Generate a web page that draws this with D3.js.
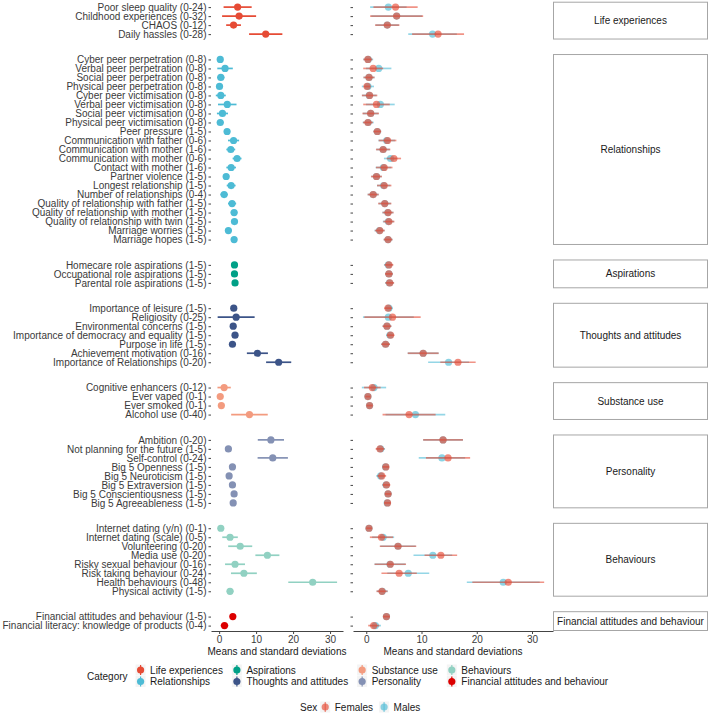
<!DOCTYPE html>
<html><head><meta charset="utf-8">
<script src="https://cdn.jsdelivr.net/npm/d3@7"></script>
<style>
body{margin:0;background:#fff}
svg{display:block}
text{font-family:"Liberation Sans",Arial,Helvetica,sans-serif}
</style>
</head><body>
<svg id="chart" width="709" height="716"></svg>
<script>
// ---------------- data ----------------
const facets = ["Life experiences","Relationships","Aspirations","Thoughts and attitudes","Substance use","Personality","Behaviours","Financial attitudes and behaviour"];
const facetColors = ["#E64B35","#4DBBD5","#00A087","#3C5488","#F39B7F","#8491B4","#91D1C2","#DC0000"];
const measures = [
  "Poor sleep quality (0-24)","Childhood experiences (0-32)","CHAOS (0-12)","Daily hassles (0-28)",
  "Cyber peer perpetration (0-8)","Verbal peer perpetration (0-8)","Social peer perpetration (0-8)","Physical peer perpetration (0-8)",
  "Cyber peer victimisation (0-8)","Verbal peer victimisation (0-8)","Social peer victimisation (0-8)","Physical peer victimisation (0-8)",
  "Peer pressure (1-5)","Communication with father (0-6)","Communication with mother (1-6)","Communication with mother (0-6)",
  "Contact with mother (1-6)","Partner violence (1-5)","Longest relationship (1-5)","Number of relationships (0-4)",
  "Quality of relationship with father (1-5)","Quality of relationship with mother (1-5)","Quality of relationship with twin (1-5)",
  "Marriage worries (1-5)","Marriage hopes (1-5)",
  "Homecare role aspirations (1-5)","Occupational role aspirations (1-5)","Parental role aspirations (1-5)",
  "Importance of leisure (1-5)","Religiosity (0-25)","Environmental concerns (1-5)","Importance of democracy and equality (1-5)",
  "Purpose in life (1-5)","Achievement motivation (0-16)","Importance of Relationships (0-20)",
  "Cognitive enhancers (0-12)","Ever vaped (0-1)","Ever smoked (0-1)","Alcohol use (0-40)",
  "Ambition (0-20)","Not planning for the future (1-5)","Self-control (0-24)","Big 5 Openness (1-5)","Big 5 Neuroticism (1-5)",
  "Big 5 Extraversion (1-5)","Big 5 Conscientiousness (1-5)","Big 5 Agreeableness (1-5)",
  "Internet dating (y/n) (0-1)","Internet dating (scale) (0-5)","Volunteering (0-20)","Media use (0-20)",
  "Risky sexual behaviour (0-16)","Risk taking behaviour (0-24)","Health behaviours (0-48)","Physical activity (1-5)",
  "Financial attitudes and behaviour (1-5)","Financial literacy: knowledge of products (0-4)"
];
const measureFacet = [0,0,0,0,
  1,1,1,1,1,1,1,1,1,1,1,1,1,1,1,1,1,1,1,1,1,
  2,2,2,
  3,3,3,3,3,3,3,
  4,4,4,4,
  5,5,5,5,5,5,5,5,
  6,6,6,6,6,6,6,6,
  7,7];
const overallMean = [5.0,5.4,3.9,12.6,
  0.3,1.6,0.45,0.1,0.45,2.2,0.9,0.3,2.15,3.9,3.15,4.85,3.25,1.9,3.25,1.35,3.5,4.05,4.15,2.5,4.05,
  4.15,4.15,4.3,
  3.95,4.6,3.8,4.3,3.6,10.35,16.1,
  1.35,0.3,0.6,8.2,
  14.0,2.5,14.5,3.6,2.7,3.6,4.05,3.8,
  0.45,2.95,5.7,13.05,4.3,6.7,25.3,2.95,
  3.7,1.45];
const overallSD = [3.8,4.6,2.0,4.5,
  0.8,2.1,1.0,0.6,1.35,2.5,1.5,0.9,0.7,1.5,1.2,1.2,1.3,0.8,1.2,1.0,1.1,0.9,0.9,0.9,0.8,
  0.8,0.7,0.8,
  0.7,5.0,0.8,0.7,0.8,2.85,3.4,
  1.8,0.45,0.5,4.95,
  3.55,0.8,4.1,0.6,0.8,0.7,0.6,0.6,
  0.5,2.1,3.25,3.25,2.7,3.5,6.6,0.9,
  0.6,1.0];
const femaleMean = [5.3,5.5,3.8,13.0,
  0.3,1.25,0.5,0.15,0.6,1.85,0.8,0.3,2.0,3.85,3.05,5.0,3.25,1.85,3.25,1.25,3.35,3.95,4.1,2.45,3.95,
  4.1,4.1,4.25,
  3.95,4.75,3.75,4.4,3.5,10.3,16.6,
  1.1,0.3,0.6,7.75,
  13.9,2.5,14.8,3.55,2.8,3.65,3.95,3.85,
  0.5,2.75,5.75,13.5,4.35,5.95,25.7,2.85,
  3.65,1.35];
const femaleSD = [4.0,4.8,2.2,4.7,
  0.8,1.8,1.0,0.6,1.4,2.4,1.5,0.9,0.7,1.6,1.3,1.3,1.5,1.0,1.3,1.0,1.2,1.0,1.0,0.9,0.8,
  0.8,0.7,0.8,
  0.7,5.1,0.8,0.7,0.8,2.8,3.2,
  1.5,0.45,0.5,4.8,
  3.6,0.8,4.0,0.6,0.8,0.7,0.6,0.6,
  0.5,2.1,3.3,2.95,2.85,3.2,6.5,1.0,
  0.6,1.0];
const maleMean = [4.0,5.5,3.8,12.0,
  0.35,2.25,0.5,0.3,0.55,2.55,0.8,0.35,2.0,3.7,3.05,4.4,3.1,1.85,3.15,1.25,3.35,3.9,4.0,2.4,3.95,
  4.0,4.1,4.2,
  4.1,4.0,3.75,4.3,3.5,10.3,14.9,
  1.4,0.3,0.6,8.9,
  13.9,2.6,13.7,3.5,2.6,3.6,3.95,3.8,
  0.5,3.05,5.75,12.05,4.3,7.6,24.8,2.9,
  3.65,1.65];
const maleSD = [3.3,4.6,2.1,4.4,
  0.9,2.3,1.0,1.1,1.3,2.6,1.4,1.0,0.7,1.5,1.2,1.2,1.4,0.9,1.2,1.0,1.1,1.0,1.0,0.9,0.8,
  0.8,0.7,0.8,
  0.7,4.6,0.8,0.7,0.8,2.8,3.7,
  2.2,0.45,0.5,5.4,
  3.6,0.8,4.2,0.6,0.8,0.7,0.6,0.6,
  0.5,2.0,3.2,3.5,2.8,3.8,6.6,1.0,
  0.6,1.0];
const xTicks = [0,10,20,30];
const sexLabels = ["Females","Males"];
const sexColors = ["#E64B35","#4DBBD5"];
const xTitle = "Means and standard deviations";

// ---------------- layout ----------------
const svg = d3.select("#chart");
const topY = 1.7, bottomY = 631, gap = 14.5;
const counts = facets.map((f,i)=>measureFacet.filter(d=>d===i).length);
const unit = (bottomY - topY - gap*(facets.length-1)) / (d3.sum(counts) + 0.2*facets.length);
let cursor = topY;
const panels = facets.map((f,i)=>{
  const idx = d3.range(measures.length).filter(j=>measureFacet[j]===i);
  const h = (counts[i]+0.2)*unit;
  const y = d3.scalePoint().domain(idx).range([cursor, cursor+h]).padding(0.6);
  const p = {name:f, i, idx, top:cursor, bottom:cursor+h, y};
  cursor += h + gap;
  return p;
});

const xL = d3.scaleLinear().domain([-2.2,33.5]).range([211,343]);
const xR = d3.scaleLinear().domain([-2.4,33.8]).range([353,553]);
const textCol = "#3a3a3a";
const R = 3.6;

// ---------------- left panel ----------------
const gL = svg.append("g");
panels.forEach(p=>{
  const ax = gL.append("g").attr("transform",`translate(${xL.range()[0]},0)`)
    .call(d3.axisLeft(p.y).tickSize(2.5).tickPadding(2).tickFormat(j=>measures[j]));
  ax.select(".domain").remove();
  ax.selectAll("line").attr("stroke","#444");
  ax.selectAll("text").attr("font-size",10).attr("fill",textCol).attr("font-family",null);

  const g = gL.append("g");
  g.selectAll("line.err").data(p.idx).join("line")
    .attr("x1",j=>xL(overallMean[j]-overallSD[j])).attr("x2",j=>xL(overallMean[j]+overallSD[j]))
    .attr("y1",j=>p.y(j)).attr("y2",j=>p.y(j))
    .attr("stroke",facetColors[p.i]).attr("stroke-width",1.7);
  g.selectAll("circle").data(p.idx).join("circle")
    .attr("cx",j=>xL(overallMean[j])).attr("cy",j=>p.y(j)).attr("r",R)
    .attr("fill",facetColors[p.i]);
});

// ---------------- right panel ----------------
const gR = svg.append("g");
const sexData = [
  {mean:maleMean, sd:maleSD, col:sexColors[1]},
  {mean:femaleMean, sd:femaleSD, col:sexColors[0]}
];
panels.forEach(p=>{
  const ax = gR.append("g").attr("transform",`translate(${xR.range()[0]},0)`)
    .call(d3.axisLeft(p.y).tickSize(2.5).tickFormat(""));
  ax.select(".domain").remove();
  ax.selectAll("line").attr("stroke","#444");
  sexData.forEach(s=>{
    const g = gR.append("g");
    g.selectAll("line.err").data(p.idx).join("line")
      .attr("x1",j=>xR(s.mean[j]-s.sd[j])).attr("x2",j=>xR(s.mean[j]+s.sd[j]))
      .attr("y1",j=>p.y(j)).attr("y2",j=>p.y(j))
      .attr("stroke",s.col).attr("stroke-opacity",0.6).attr("stroke-width",1.7);
    g.selectAll("circle").data(p.idx).join("circle")
      .attr("cx",j=>xR(s.mean[j])).attr("cy",j=>p.y(j)).attr("r",R)
      .attr("fill",s.col).attr("fill-opacity",0.65);
  });
  // strip
  gR.append("rect").attr("x",553.5).attr("y",p.top+0.5).attr("width",154).attr("height",p.bottom-p.top-1)
    .attr("fill","#fff").attr("stroke","#a6a6a6").attr("stroke-width",1);
  gR.append("text").attr("x",553.5+77).attr("y",(p.top+p.bottom)/2).attr("dy","0.35em")
    .attr("text-anchor","middle").attr("font-size",10).attr("fill","#1a1a1a").text(p.name);
});

// ---------------- x axes ----------------
[[xL],[xR]].forEach(([x])=>{
  const ax = svg.append("g").attr("transform",`translate(0,${bottomY})`)
    .call(d3.axisBottom(x).tickValues(xTicks).tickSize(3).tickSizeOuter(0).tickPadding(2));
  ax.select(".domain").attr("stroke","#444");
  ax.selectAll(".tick line").attr("stroke","#444");
  ax.selectAll("text").attr("font-size",10).attr("fill",textCol).attr("font-family",null);
  svg.append("text").attr("x",(x.range()[0]+x.range()[1])/2).attr("y",655)
    .attr("text-anchor","middle").attr("font-size",10).attr("fill","#1a1a1a").text(xTitle);
});

// ---------------- legends ----------------
function keyGlyph(g, cx, cy, col, op){
  g.append("rect").attr("x",cx-5).attr("y",cy-5.5).attr("width",10).attr("height",11).attr("fill","#f4f4f4");
  g.append("line").attr("x1",cx).attr("x2",cx).attr("y1",cy-5).attr("y2",cy+5)
    .attr("stroke",col).attr("stroke-width",1.2).attr("stroke-opacity",op);
  g.append("circle").attr("cx",cx).attr("cy",cy).attr("r",R).attr("fill",col).attr("fill-opacity",op);
}
const lg = svg.append("g");
const catTitle = lg.append("text").attr("x",87).attr("y",676).attr("dy","0.35em").attr("font-size",10).attr("fill","#1a1a1a").text("Category");
let lx = 87 + catTitle.node().getComputedTextLength() + 13;
const rowsY = [670, 681.5];
for(let c=0;c<4;c++){
  let maxW = 0;
  for(let r=0;r<2;r++){
    const k = c*2+r;
    keyGlyph(lg, lx, rowsY[r], facetColors[k], 1);
    const t = lg.append("text").attr("x",lx+9.5).attr("y",rowsY[r]).attr("dy","0.35em").attr("font-size",10).attr("fill","#1a1a1a").text(facets[k]);
    maxW = Math.max(maxW, t.node().getComputedTextLength());
  }
  lx += 9.5 + maxW + 14;
}
// sex legend
const sg = svg.append("g");
let sx = 300;
const sexTitle = sg.append("text").attr("x",sx).attr("y",707).attr("dy","0.35em").attr("font-size",10).attr("fill","#1a1a1a").text("Sex");
sx += sexTitle.node().getComputedTextLength() + 8;
sexLabels.forEach((lab,k)=>{
  keyGlyph(sg, sx, 707, sexColors[k], 0.65);
  const t = sg.append("text").attr("x",sx+9.5).attr("y",707).attr("dy","0.35em").attr("font-size",10).attr("fill","#1a1a1a").text(lab);
  sx += 9.5 + t.node().getComputedTextLength() + 11;
});
</script>
</body></html>
